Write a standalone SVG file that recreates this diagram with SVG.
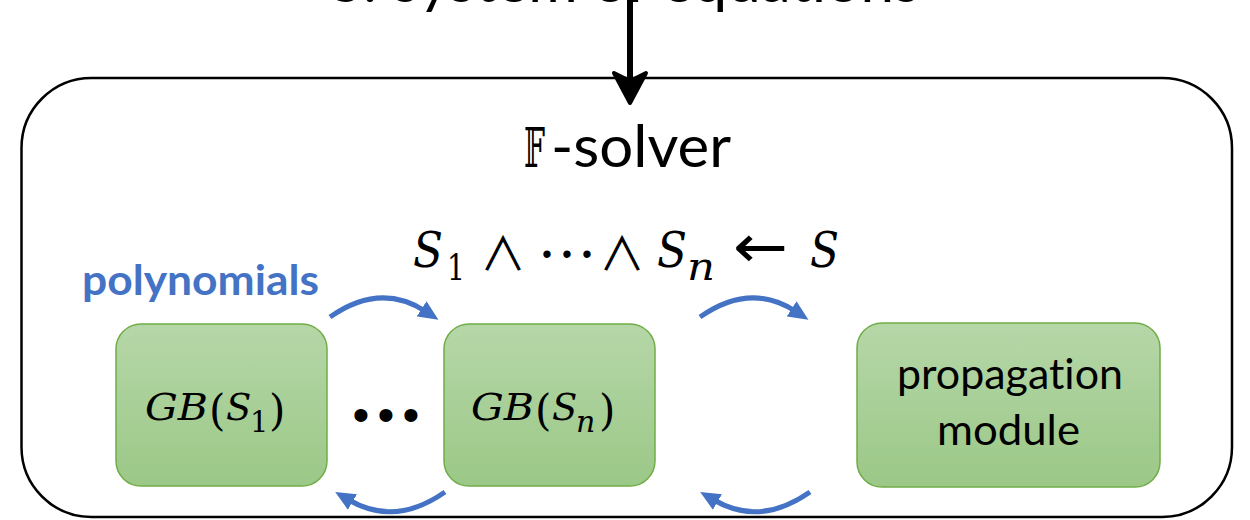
<svg xmlns="http://www.w3.org/2000/svg" width="1250" height="520" viewBox="0 0 1250 520">
  <style>
    .sans { font-family: Lato, "Liberation Sans", sans-serif; fill: #000; font-variant-ligatures: none; }
    .math { font-family: "DejaVu Serif", "Liberation Serif", serif; font-style: italic; fill: #000; }
    .up { font-style: normal; }
    .op { font-family: "DejaVu Sans", "Liberation Sans", sans-serif; fill: #000; }
    .wedge { font-family: "Noto Sans CJK JP", "DejaVu Sans", sans-serif; fill: #000; }
    .box { fill: url(#greenGrad); stroke: #70ad47; stroke-width: 1.5; }
    .blue { fill: none; stroke: #4472c4; stroke-width: 5; marker-end: url(#blueHead); }
  </style>
  <defs>
    <linearGradient id="greenGrad" x1="0" y1="0" x2="0" y2="1">
      <stop offset="0" stop-color="#b6d7a8"/>
      <stop offset="1" stop-color="#9bc887"/>
    </linearGradient>
    <marker id="blueHead" markerUnits="userSpaceOnUse" viewBox="0 0 20 20" markerWidth="20" markerHeight="20" refX="4" refY="10" orient="auto">
      <path d="M0,1 L20,10 L0,19 Z" fill="#4472c4"/>
    </marker>
  </defs>

  <rect width="1250" height="520" fill="#ffffff"/>

  <g id="input">
    <text class="sans" x="330" y="2" font-size="59" textLength="590" lengthAdjust="spacingAndGlyphs">S: system of equations</text>
  </g>

  <g id="fsolver">
    <rect x="21.5" y="78" width="1210.5" height="439" rx="70" ry="70" fill="none" stroke="#000" stroke-width="2.5"/>
    <text y="167" class="sans" font-size="59"><tspan x="524" font-size="54" font-family="'DejaVu Serif', 'DejaVu Sans', serif" textLength="21" lengthAdjust="spacingAndGlyphs">𝔽</tspan><tspan x="551" textLength="180" lengthAdjust="spacingAndGlyphs">-solver</tspan></text>
  </g>

  <g id="formula">
    <text class="math" x="413" y="267" font-size="48" textLength="30" lengthAdjust="spacingAndGlyphs">S</text>
    <text class="math up" x="447" y="280" font-size="36" textLength="18" lengthAdjust="spacingAndGlyphs">1</text>
    <text class="wedge" x="503" y="270" font-size="46" text-anchor="middle">∧</text>
    <text x="547 567 587" y="263" font-size="27" font-family="'Liberation Sans', sans-serif" text-anchor="middle" fill="#000">•••</text>
    <text class="wedge" x="622" y="270" font-size="46" text-anchor="middle">∧</text>
    <text class="math" x="657" y="267" font-size="48" textLength="30" lengthAdjust="spacingAndGlyphs">S</text>
    <text class="math" x="687" y="280" font-size="40" textLength="28" lengthAdjust="spacingAndGlyphs">n</text>
    <text class="op" x="733" y="267" font-size="60" textLength="55" lengthAdjust="spacingAndGlyphs">←</text>
    <text class="math" x="810" y="267" font-size="48" textLength="29" lengthAdjust="spacingAndGlyphs">S</text>
  </g>

  <g id="polynomials-label">
    <text x="82" y="295" font-size="42" font-weight="bold" font-family="Lato, 'Liberation Sans', sans-serif" fill="#4472c4" textLength="237" lengthAdjust="spacingAndGlyphs">polynomials</text>
  </g>

  <g id="gb1">
    <rect class="box" x="116" y="324" width="211" height="162" rx="25" ry="25"/>
    <text class="math" x="145" y="420" font-size="37" textLength="63" lengthAdjust="spacingAndGlyphs">GB</text>
    <text class="math up" x="209" y="425" font-size="42">(</text>
    <text class="math" x="226" y="420" font-size="37">S</text>
    <text class="math up" x="250" y="432" font-size="29">1</text>
    <text class="math up" x="269" y="425" font-size="42">)</text>
  </g>

  <g id="dots">
    <text x="361 386 411" y="431" font-size="48" font-family="'Liberation Sans', sans-serif" text-anchor="middle" fill="#000">•••</text>
  </g>

  <g id="gbn">
    <rect class="box" x="444" y="324" width="211" height="162" rx="25" ry="25"/>
    <text class="math" x="471" y="420" font-size="37" textLength="63" lengthAdjust="spacingAndGlyphs">GB</text>
    <text class="math up" x="535" y="425" font-size="42">(</text>
    <text class="math" x="552" y="420" font-size="37">S</text>
    <text class="math" x="576" y="432" font-size="30">n</text>
    <text class="math up" x="599" y="425" font-size="42">)</text>
  </g>

  <g id="propagation">
    <rect class="box" x="857" y="323" width="303" height="164" rx="25" ry="25"/>
    <text class="sans" x="897" y="389" font-size="42" textLength="226" lengthAdjust="spacingAndGlyphs">propagation</text>
    <text class="sans" x="937" y="445" font-size="42" textLength="143" lengthAdjust="spacingAndGlyphs">module</text>
  </g>

  <g id="connectors">
    <line x1="630" y1="0" x2="630" y2="82" stroke="#000" stroke-width="6"/>
    <path d="M614,73 L630,103 L646,73 L630,81 Z" fill="#000" stroke="#000" stroke-width="4" stroke-linejoin="round"/>
    <path class="blue" d="M330,317 Q380,282 425,311"/>
    <path class="blue" d="M445,492 Q395,527 349,500"/>
    <path class="blue" d="M700,317 Q750,282 795,311"/>
    <path class="blue" d="M810,492 Q760,527 714,500"/>
  </g>
</svg>
